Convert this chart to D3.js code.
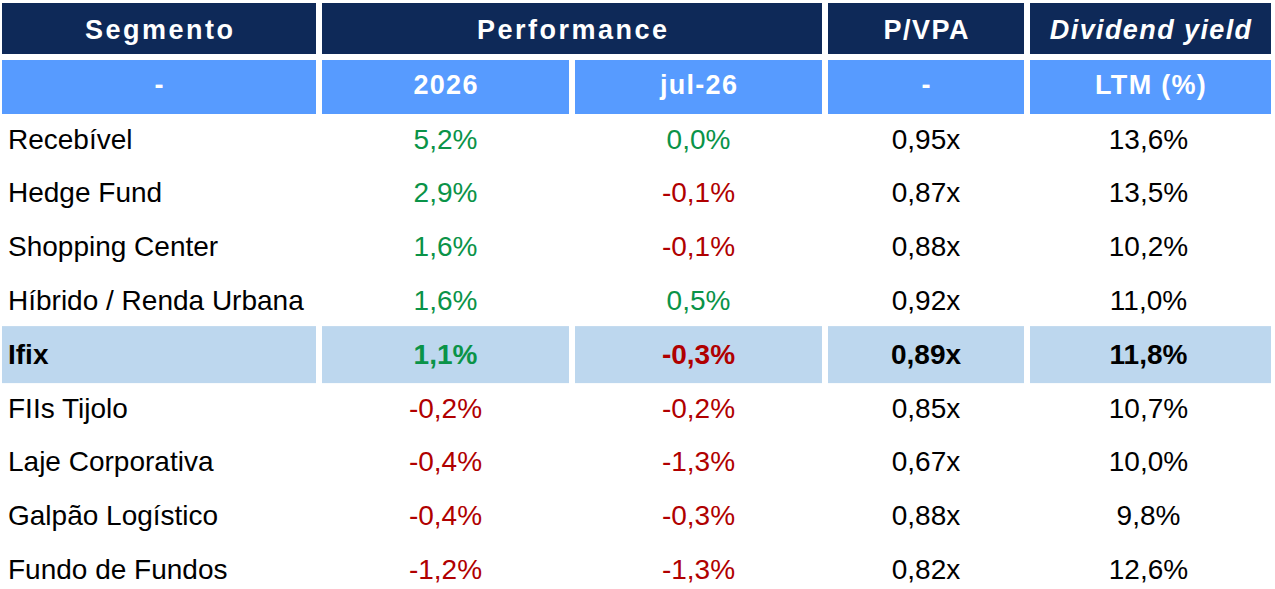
<!DOCTYPE html>
<html>
<head>
<meta charset="utf-8">
<script src="https://cdn.jsdelivr.net/npm/d3@7"></script>
<style>
  html, body { margin: 0; padding: 0; background: #fff; }
  svg text { font-family: "Liberation Sans", Arial, sans-serif; }
</style>
</head>
<body>
<div id="chart"></div>
<script>
// data
const segments = ['Recebível', 'Hedge Fund', 'Shopping Center', 'Híbrido / Renda Urbana', 'Ifix',
  'FIIs Tijolo', 'Laje Corporativa', 'Galpão Logístico', 'Fundo de Fundos']
const perf2026 = [5.2, 2.9, 1.6, 1.6, 1.1, -0.2, -0.4, -0.4, -1.2]
const perfJul = [0.0, -0.1, -0.1, 0.5, -0.3, -0.2, -1.3, -0.3, -1.3]
const pvpa = [0.95, 0.87, 0.88, 0.92, 0.89, 0.85, 0.67, 0.88, 0.82]
const dy = [13.6, 13.5, 10.2, 11.0, 11.8, 10.7, 10.0, 9.8, 12.6]
const highlight = 'Ifix'

const headerTop = [
  { label: 'Segmento', from: 0, to: 1, spacing: 2.5 },
  { label: 'Performance', from: 1, to: 3, spacing: 2.5 },
  { label: 'P/VPA', from: 3, to: 4, spacing: 1.5 },
  { label: 'Dividend yield', from: 4, to: 5, spacing: 1.4, italic: true },
]
const headerSub = ['-', '2026', 'jul-26', '-', 'LTM (%)']

const W = 1275, H = 589
const edges = [2, 322, 575, 828, 1030, 1277] // column edges (each cell leaves a 6px gap)
const gap = 6
const navy = '#0E2958', blue = '#579BFF', band = '#BDD7EE'
const green = '#0A9348', red = '#B00000'

const loc = d3.formatLocale({ decimal: ',', thousands: '.', grouping: [3], currency: ['R$', ''], minus: '-' })
const pct = loc.format('.1f')
const mult = loc.format('.2f')

const svg = d3.select('#chart').append('svg')
    .attr('width', W)
    .attr('height', H)

const y = d3.scaleBand().domain(segments).range([112, 596])

// header rows
const hdr = svg.append('g')
hdr.selectAll('rect.top')
    .data(headerTop)
  .enter().append('rect')
    .attr('x', d => edges[d.from])
    .attr('y', 3)
    .attr('width', d => edges[d.to] - edges[d.from] - gap)
    .attr('height', 51)
    .attr('fill', navy)
hdr.selectAll('text.top')
    .data(headerTop)
  .enter().append('text')
    .attr('x', d => (edges[d.from] + edges[d.to] - gap) / 2 + d.spacing / 2)
    .attr('y', 39)
    .attr('text-anchor', 'middle')
    .attr('fill', '#fff')
    .style('font-size', '27px')
    .style('font-weight', 'bold')
    .style('font-style', d => d.italic ? 'italic' : 'normal')
    .style('letter-spacing', d => d.spacing + 'px')
    .text(d => d.label)

hdr.selectAll('rect.sub')
    .data(headerSub)
  .enter().append('rect')
    .attr('x', (d, i) => edges[i])
    .attr('y', 60)
    .attr('width', (d, i) => edges[i + 1] - edges[i] - gap)
    .attr('height', 54)
    .attr('fill', blue)
hdr.selectAll('text.sub')
    .data(headerSub)
  .enter().append('text')
    .attr('x', (d, i) => (edges[i] + edges[i + 1] - gap) / 2 + 0.6)
    .attr('y', 93.5)
    .attr('text-anchor', 'middle')
    .attr('fill', '#fff')
    .style('font-size', '27px')
    .style('font-weight', 'bold')
    .style('letter-spacing', '1.3px')
    .text(d => d)

// highlighted row
svg.append('g').selectAll('rect')
    .data(d3.range(5))
  .enter().append('rect')
    .attr('x', i => edges[i])
    .attr('y', y(highlight) - 1)
    .attr('width', i => edges[i + 1] - edges[i] - gap)
    .attr('height', 57)
    .attr('fill', band)

// body
const rows = segments.map((s, i) => ({
  seg: s, p26: perf2026[i], pjul: perfJul[i], pvpa: pvpa[i], dy: dy[i],
}))
const cx = i => (edges[i] + edges[i + 1] - gap) / 2
const signColor = v => v < 0 ? red : green

const row = svg.append('g').selectAll('g')
    .data(rows)
  .enter().append('g')
    .attr('transform', d => 'translate(0,' + (y(d.seg) + y.bandwidth() / 2 + 9.8) + ')')
    .style('font-size', '28px')
    .style('font-weight', d => d.seg === highlight ? 'bold' : 'normal')

row.append('text')
    .attr('x', 8)
    .attr('fill', '#000')
    .text(d => d.seg)
row.append('text')
    .attr('x', cx(1))
    .attr('text-anchor', 'middle')
    .attr('fill', d => signColor(d.p26))
    .text(d => pct(d.p26) + '%')
row.append('text')
    .attr('x', cx(2))
    .attr('text-anchor', 'middle')
    .attr('fill', d => signColor(d.pjul))
    .text(d => pct(d.pjul) + '%')
row.append('text')
    .attr('x', cx(3))
    .attr('text-anchor', 'middle')
    .attr('fill', '#000')
    .text(d => mult(d.pvpa) + 'x')
row.append('text')
    .attr('x', cx(4) - 2)
    .attr('text-anchor', 'middle')
    .attr('fill', '#000')
    .text(d => pct(d.dy) + '%')
</script>
</body>
</html>
